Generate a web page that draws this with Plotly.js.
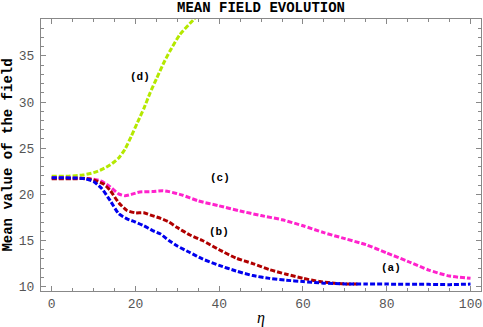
<!DOCTYPE html>
<html>
<head>
<meta charset="utf-8">
<script src="https://cdn.plot.ly/plotly-3.0.1.min.js"></script>
<style>
  html, body { margin: 0; padding: 0; background: #fff; }
  #chart { width: 483px; height: 327px; }
</style>
</head>
<body>
<div id="chart"></div>
<script>
// (a) blue
const etaA = [0, 5, 8, 10, 12, 14, 16, 18, 20, 22, 24, 26, 28, 30, 33, 36, 40, 44, 48, 52, 56, 60, 65, 70, 75, 80, 85, 90, 95, 100];
const valA = [21.8, 21.78, 21.7, 21.4, 20.6, 19.3, 17.9, 17.35, 17.0, 16.6, 16.1, 15.7, 15.0, 14.4, 13.7, 13.0, 12.3, 11.7, 11.2, 10.9, 10.7, 10.55, 10.38, 10.3, 10.28, 10.28, 10.25, 10.25, 10.22, 10.28];

// (b) dark red
const etaB = [0, 5, 9, 11, 12.5, 14, 16, 18, 20, 22, 24, 26, 28, 30, 33, 36, 40, 44, 48, 52, 56, 60, 64, 68, 70, 73];
const valB = [21.7, 21.7, 21.68, 21.4, 21.1, 20.4, 19.1, 18.25, 18.0, 18.0, 17.7, 17.4, 17.0, 16.4, 15.6, 15.0, 14.0, 13.1, 12.5, 11.85, 11.35, 10.9, 10.55, 10.35, 10.3, 10.3];

// (c) magenta
const etaC = [0, 5, 10, 12, 14, 16, 17.5, 19, 21, 24, 26.5, 28, 31, 35, 40, 45, 50, 55, 60, 65, 70, 75, 80, 85, 90, 95, 100];
const valC = [21.8, 21.78, 21.65, 21.4, 20.8, 20.05, 19.85, 20.0, 20.25, 20.3, 20.4, 20.3, 19.95, 19.3, 18.75, 18.2, 17.7, 17.25, 16.6, 15.85, 15.2, 14.55, 13.65, 12.75, 11.8, 11.15, 10.9];

// (d) yellow-green
const etaD = [0, 4, 7.5, 10, 12, 14, 16, 17.5, 19, 20.5, 22, 23.5, 25, 26.6, 28.2, 30.6, 33.8, 36];
const valD = [21.95, 21.97, 22.1, 22.35, 22.7, 23.2, 23.95, 24.9, 26.3, 27.8, 29.3, 31.0, 32.5, 34.1, 35.5, 37.3, 38.9, 40];

const labelText = ["(a)", "(b)", "(c)", "(d)"];
const labelEta = [81, 40, 40.2, 21];
const labelVal = [12.0, 15.9, 21.8, 32.7];

const xTicks = [0, 20, 40, 60, 80, 100];
const yTicks = [10, 15, 20, 25, 30, 35];

const mono = "Liberation Mono, Courier New, monospace";
const dashStyle = "5px,2px";

function series(x, y, color) {
  return {
    x: x, y: y,
    type: "scatter",
    mode: "lines",
    line: { color: color, width: 3, dash: dashStyle, shape: "spline", smoothing: 0.6 },
    hoverinfo: "skip",
    showlegend: false
  };
}

const traces = [
  series(etaD, valD, "#b4e800"),
  series(etaC, valC, "#ff22cc"),
  series(etaB, valB, "#b00000"),
  series(etaA, valA, "#0000ee")
];

const axisBase = {
  showgrid: false,
  zeroline: false,
  showline: true,
  linecolor: "#888",
  linewidth: 1,
  mirror: "allticks",
  ticks: "inside",
  ticklen: 5,
  tickcolor: "#888",
  tickfont: { family: mono, size: 13, color: "#555" }
};

const layout = {
  width: 483,
  height: 327,
  margin: { l: 41, r: 2, t: 19, b: 36 },
  paper_bgcolor: "#fff",
  plot_bgcolor: "#fff",
  title: {
    text: "<b>MEAN FIELD EVOLUTION</b>",
    font: { family: mono, size: 14, color: "#000" },
    x: 0.5, xref: "paper", xanchor: "center",
    y: 0.978, yref: "container", yanchor: "middle"
  },
  xaxis: Object.assign({}, axisBase, {
    range: [-2.55, 102.5],
    tickvals: xTicks,
    minor: { dtick: 5, ticks: "inside", ticklen: 3, tickcolor: "#888" },
    title: { text: "<i>η</i>", font: { family: "Liberation Serif, serif", size: 16, color: "#000" }, standoff: 4 }
  }),
  yaxis: Object.assign({}, axisBase, {
    range: [9.53, 39.0],
    tickvals: yTicks,
    ticklabelstandoff: 3,
    minor: { dtick: 1, ticks: "inside", ticklen: 3, tickcolor: "#888" },
    title: { text: "<b>Mean value of the field</b>", font: { family: mono, size: 14, color: "#000" }, standoff: 6 }
  }),
  annotations: labelText.map((t, i) => ({
    x: labelEta[i], y: labelVal[i],
    xref: "x", yref: "y",
    text: "<b>" + t + "</b>",
    showarrow: false,
    font: { family: mono, size: 11, color: "#000" }
  }))
};

const config = { staticPlot: true, displayModeBar: false };

Plotly.newPlot("chart", traces, layout, config);
</script>
</body>
</html>
